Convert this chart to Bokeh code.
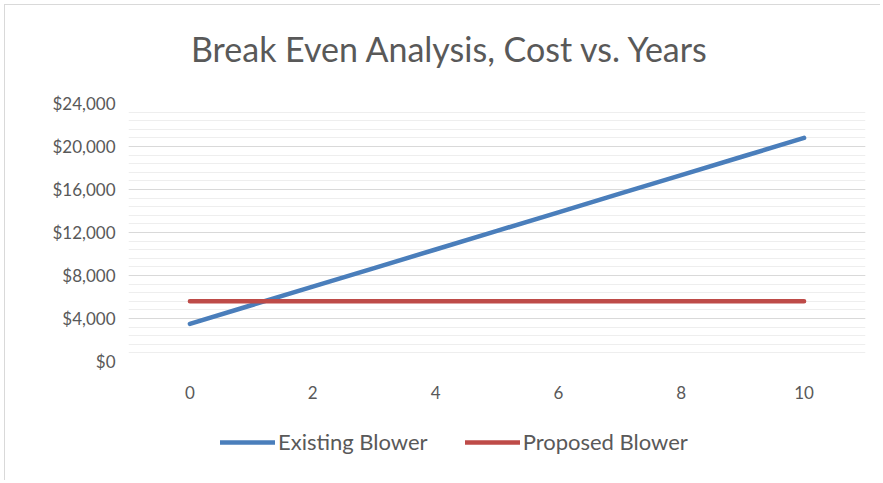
from bokeh.plotting import figure
from bokeh.layouts import column
from bokeh.models import Range1d, FixedTicker, NumeralTickFormatter, Legend, LegendItem, Div
from bokeh.embed import file_html
from bokeh.resources import INLINE

title_text = "Break Even Analysis, Cost vs. Years"
years = [0, 1, 2, 3, 4, 5, 6, 7, 8, 9, 10]
existing_blower = [3500, 5230, 6960, 8690, 10420, 12150, 13880, 15610, 17340, 19070, 20800]
proposed_blower = [5600, 5600, 5600, 5600, 5600, 5600, 5600, 5600, 5600, 5600, 5600]
x_ticks = [0, 2, 4, 6, 8, 10]
y_ticks = [0, 4000, 8000, 12000, 16000, 20000, 24000]
y_minor = [v * 800 for v in range(31)]

FONT = "Lato"
TXT = "#595959"
BLUE = "#4A7EBB"
RED = "#BE4B48"

title = Div(text=title_text, width=875, height=70, margin=0,
            styles={"font-family": "Lato", "font-size": "34px", "color": TXT,
                    "line-height": "40px", "padding-top": "24px", "padding-left": "186px",
                    "box-sizing": "border-box", "white-space": "nowrap"})

p = figure(width=875, height=335, output_backend="svg", toolbar_location=None,
           x_range=Range1d(-1, 11), y_range=Range1d(0, 24000),
           min_border_left=123, min_border_right=15, min_border_top=28, min_border_bottom=49)
p.outline_line_color = None
p.background_fill_color = "white"

p.line(years, existing_blower, line_color=BLUE, line_width=4.5, line_cap="round")
p.line(years, proposed_blower, line_color=RED, line_width=4.5, line_cap="round")

p.xaxis.ticker = FixedTicker(ticks=x_ticks)
p.yaxis.ticker = FixedTicker(ticks=y_ticks, minor_ticks=y_minor)
p.yaxis.formatter = NumeralTickFormatter(format="$0,0")
for ax in (p.xaxis, p.yaxis):
    ax.axis_line_color = None
    ax.major_tick_line_color = None
    ax.minor_tick_line_color = None
    ax.major_label_text_font = FONT
    ax.major_label_text_font_size = "17px"
    ax.major_label_text_color = TXT
p.xaxis.major_label_standoff = 18
p.yaxis.major_label_standoff = 7

p.xgrid.grid_line_color = None
p.ygrid.grid_line_color = "#D9D9D9"
p.ygrid.grid_line_width = 1.2
p.ygrid.minor_grid_line_color = "#EEEEEE"
p.ygrid.minor_grid_line_width = 1.2

# legend strip below the chart (series drawn out of view, only the legend shows)
lg = figure(width=875, height=70, output_backend="svg", toolbar_location=None,
            x_range=Range1d(0, 1), y_range=Range1d(-2, -1),
            min_border_left=0, min_border_right=0, min_border_top=0, min_border_bottom=0)
lg.axis.visible = False
lg.grid.visible = False
lg.outline_line_color = None
r1 = lg.line(years, existing_blower, line_color=BLUE, line_width=4.5, line_cap="round")
r2 = lg.line(years, proposed_blower, line_color=RED, line_width=4.5, line_cap="round")
legend = Legend(items=[LegendItem(label="Existing Blower", renderers=[r1]),
                       LegendItem(label="Proposed Blower", renderers=[r2])],
                orientation="horizontal", location=(92, 25),
                label_text_font=FONT, label_text_font_size="22px", label_text_color=TXT,
                glyph_width=55, glyph_height=20, label_standoff=3, spacing=37,
                border_line_color=None, background_fill_alpha=0, margin=0, padding=0)
lg.add_layout(legend, "center")

layout = column(title, p, lg, spacing=0,
                styles={"border-top": "1px solid #D9D9D9", "border-left": "1px solid #D9D9D9",
                        "margin-left": "4px", "margin-top": "4px"})
open("out.html", "w").write(file_html(layout, INLINE))
